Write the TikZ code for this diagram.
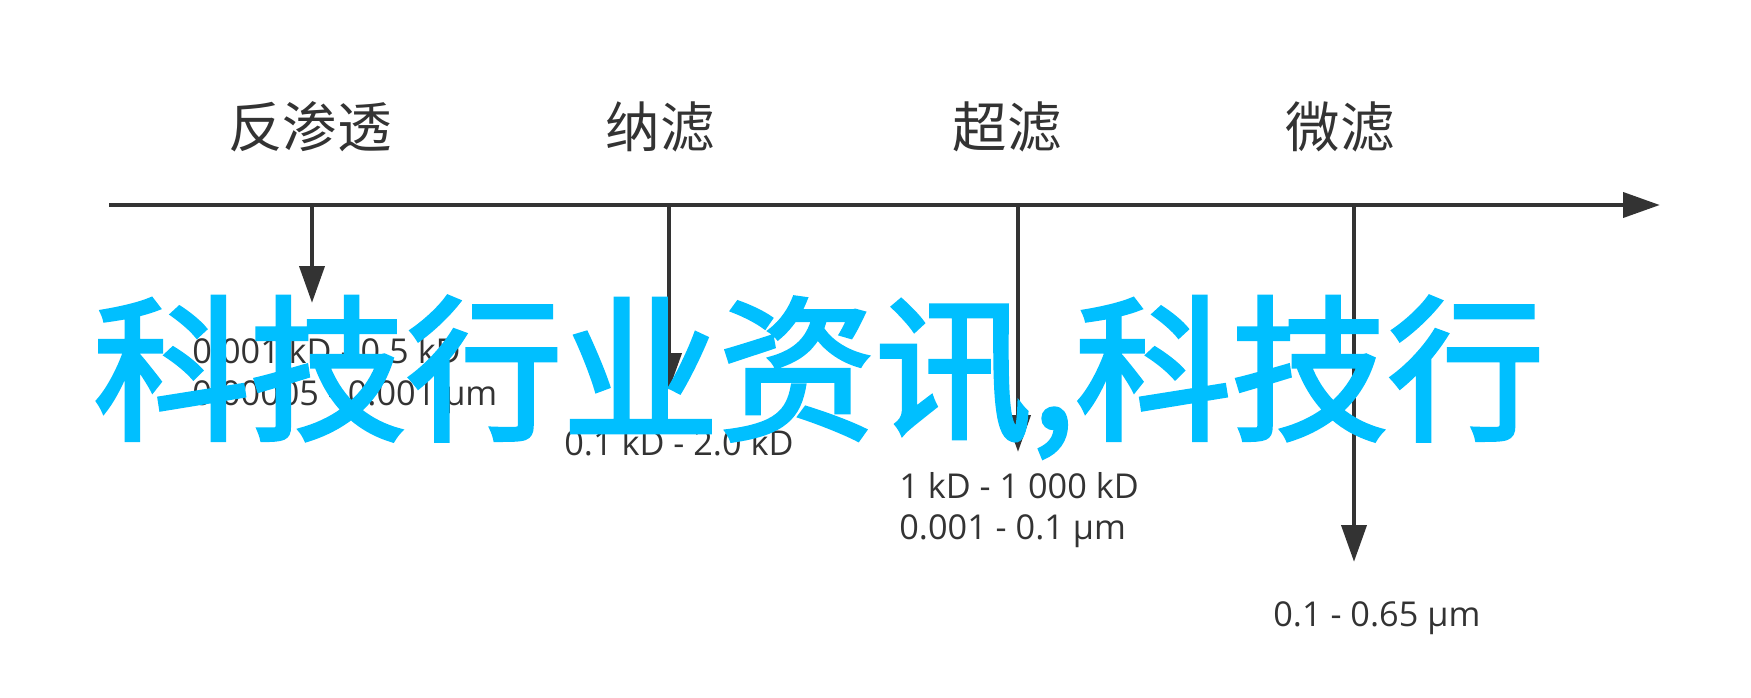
\documentclass[tikz,border=0pt]{standalone}
\usepackage{fontspec}
\setmainfont{Open Sans}
\newfontfamily\cjkfont{Noto Sans CJK SC}
\newfontfamily\bannerfont{Noto Sans CJK SC}[FakeBold=2.5]
\usepackage{tikz}
\usetikzlibrary{arrows.meta}
\definecolor{axisgray}{RGB}{51, 51, 51}
\definecolor{bannerblue}{RGB}{0, 191, 255}

\tikzset{
  axisline/.style={line width=2.8pt, draw=axisgray, -{Triangle[length=21pt, width=14pt]}},
  procname/.style={font=\cjkfont\fontsize{31}{37}\selectfont, text=axisgray, inner sep=0pt},
  rangetext/.style={font=\fontsize{19.5}{23}\selectfont, text=axisgray, anchor=base west, inner sep=0pt}
}

\begin{document}
\begin{tikzpicture}[x=0.02cm, y=-0.02cm]
\useasboundingbox (0,0) rectangle (1751,697);

% Process names
\node[procname] (ro label) at (310,127) {反渗透};
\node[procname] (nf label) at (660,127) {纳滤};
\node[procname] (uf label) at (1007,127) {超滤};
\node[procname] (mf label) at (1340,127) {微滤};

% Axis
\coordinate (axis start) at (109,205);
\coordinate (axis end) at (1660,205);
\draw[axisline] (axis start) -- (axis end);

% Arrow 1
\coordinate (ro) at (312,205);
\coordinate (ro tip) at (312,303);
\draw[axisline] (ro) -- (ro tip);
\node[rangetext] (ro kd) at (192,363) {0.001 kD - 0.5 kD};
\node[rangetext] (ro um) at (192,405) {0.00005 - 0.001 µm};

% Arrow 2
\coordinate (nf) at (669,205);
\coordinate (nf tip) at (669,390);
\draw[axisline] (nf) -- (nf tip);
\node[rangetext] (nf kd) at (564,455) {0.1 kD - 2.0 kD};

% Arrow 3
\coordinate (uf) at (1018,205);
\coordinate (uf tip) at (1018,452);
\draw[axisline] (uf) -- (uf tip);
\node[rangetext] (uf kd) at (899,498) {1 kD - 1 000 kD};
\node[rangetext] (uf um) at (899,539) {0.001 - 0.1 µm};

% Arrow 4
\coordinate (mf) at (1354,205);
\coordinate (mf tip) at (1354,562);
\draw[axisline] (mf) -- (mf tip);
\node[rangetext] (mf um) at (1273,626) {0.1 - 0.65 µm};

% Banner on top
\node[anchor=base west, inner sep=0pt, text=bannerblue,
  font=\bannerfont\fontsize{89}{100}\selectfont] (banner) at (93,428) {科技行业资讯,科技行};
\end{tikzpicture}
\end{document}
